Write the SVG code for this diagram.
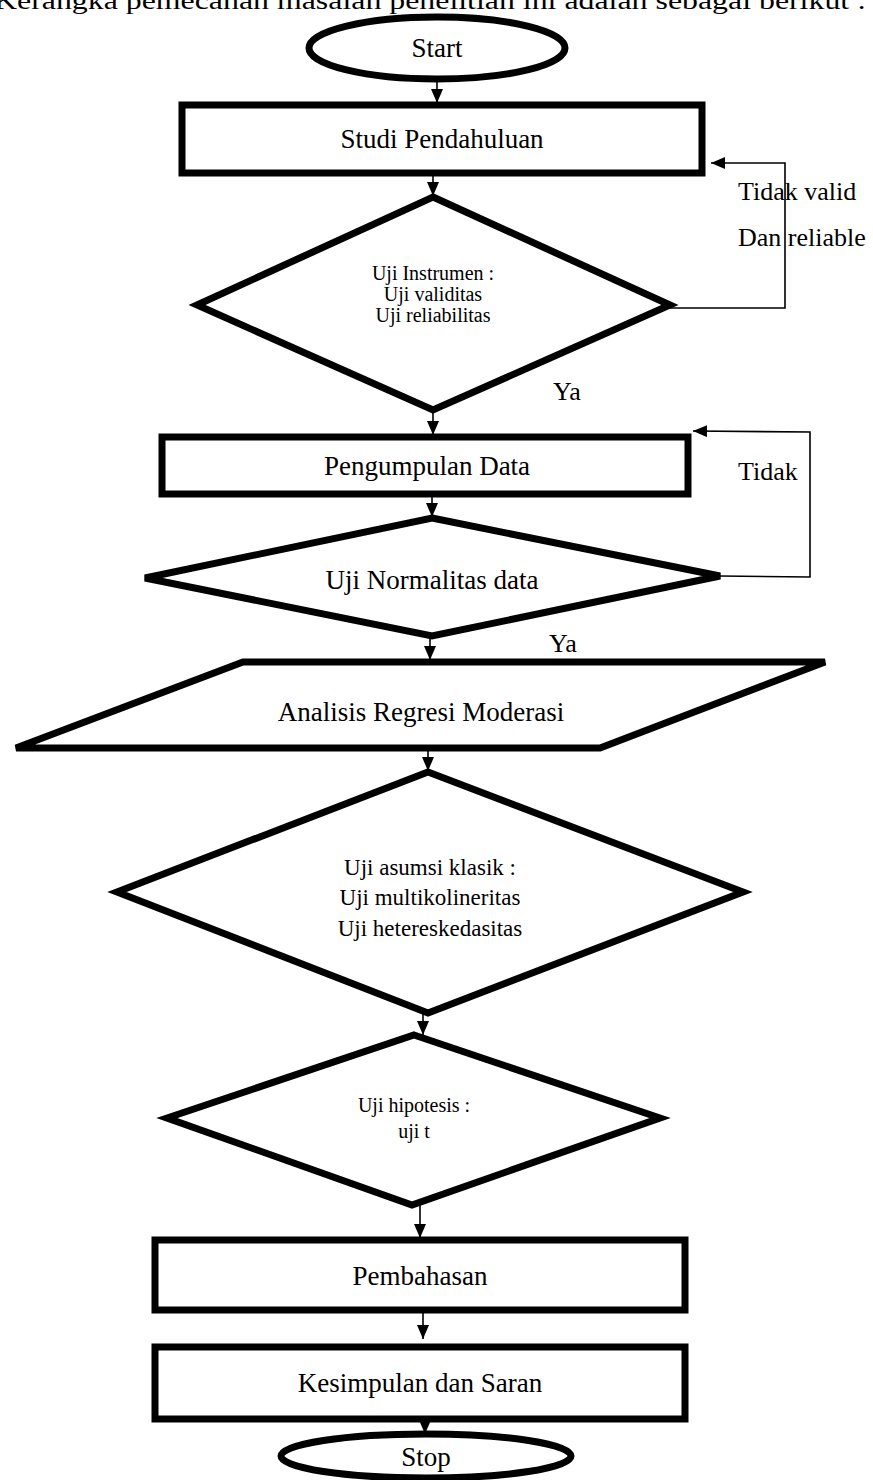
<svg xmlns="http://www.w3.org/2000/svg" width="873" height="1480" viewBox="0 0 873 1480">
<defs>
<style>
.shape{fill:#fff;stroke:#000;stroke-width:7;stroke-linejoin:miter}
.t{font-family:"Liberation Serif","Times New Roman",serif;fill:#000;text-anchor:middle;font-size:27px}
.s{font-size:20px}
.m{font-size:23px}
.lbl{font-family:"Liberation Serif","Times New Roman",serif;fill:#000;font-size:26px}
.c{fill:none;stroke:#000;stroke-width:1.6}
</style>
<marker id="ah" markerUnits="userSpaceOnUse" markerWidth="14" markerHeight="12" refX="14" refY="6" orient="auto">
<path d="M0,0 L14,6 L0,12 Z" fill="#000"/>
</marker>
</defs>
<rect width="873" height="1480" fill="#fff"/>
<text class="lbl" x="-6" y="9" textLength="872" lengthAdjust="spacingAndGlyphs">Kerangka pemecahan masalah penelitian ini adalah sebagai berikut :</text>

<g id="connectors">
<line class="c" x1="437" y1="80" x2="437" y2="103" marker-end="url(#ah)"/>
<line class="c" x1="433" y1="173" x2="433" y2="196" marker-end="url(#ah)"/>
<polyline class="c" points="670,308 785,308 785,163 711,163" marker-end="url(#ah)"/>
<line class="c" x1="433" y1="410" x2="433" y2="435" marker-end="url(#ah)"/>
<polyline class="c" points="720,576 810,577 810,432 693,431" marker-end="url(#ah)"/>
<line class="c" x1="432" y1="494" x2="432" y2="517" marker-end="url(#ah)"/>
<line class="c" x1="430" y1="636" x2="430" y2="660" marker-end="url(#ah)"/>
<line class="c" x1="428" y1="748" x2="428" y2="771" marker-end="url(#ah)"/>
<line class="c" x1="423" y1="1013" x2="423" y2="1035" marker-end="url(#ah)"/>
<line class="c" x1="420" y1="1205" x2="420" y2="1238" marker-end="url(#ah)"/>
<line class="c" x1="423" y1="1310" x2="423" y2="1339" marker-end="url(#ah)"/>
<line class="c" x1="425" y1="1419" x2="425" y2="1434" marker-end="url(#ah)"/>
<text class="lbl" x="738" y="200">Tidak valid</text>
<text class="lbl" x="738" y="246">Dan reliable</text>
<text class="lbl" x="553" y="400">Ya</text>
<text class="lbl" x="738" y="480">Tidak</text>
<text class="lbl" x="549" y="652">Ya</text>
</g>

<g id="start">
<ellipse class="shape" cx="437" cy="48" rx="128" ry="31"/>
<text class="t" x="437" y="57">Start</text>
</g>

<g id="studi">
<rect class="shape" x="182" y="105" width="520" height="68"/>
<text class="t" x="442" y="148">Studi Pendahuluan</text>
</g>

<g id="uji-instrumen">
<polygon class="shape" points="433,197 670,305 433,410 197,305"/>
<text class="t s" x="433" y="280">Uji Instrumen :</text>
<text class="t s" x="433" y="301">Uji validitas</text>
<text class="t s" x="433" y="322">Uji reliabilitas</text>
</g>

<g id="pengumpulan">
<rect class="shape" x="162" y="437" width="526" height="57"/>
<text class="t" x="427" y="475">Pengumpulan Data</text>
</g>

<g id="normalitas">
<polygon class="shape" points="432,518 720,576 432,636 145,578"/>
<text class="t" x="432" y="589">Uji Normalitas data</text>
</g>

<g id="regresi">
<polygon class="shape" points="243,662 825,662 600,748 16,748"/>
<text class="t" x="421" y="721">Analisis Regresi Moderasi</text>
</g>

<g id="asumsi">
<polygon class="shape" points="428,772 743,892 428,1013 117,892"/>
<text class="t m" x="430" y="875">Uji asumsi klasik :</text>
<text class="t m" x="430" y="905">Uji multikolineritas</text>
<text class="t m" x="430" y="936">Uji hetereskedasitas</text>
</g>

<g id="hipotesis">
<polygon class="shape" points="414,1035 660,1118 412,1205 167,1118"/>
<text class="t s" x="414" y="1112">Uji hipotesis :</text>
<text class="t s" x="414" y="1138">uji t</text>
</g>

<g id="pembahasan">
<rect class="shape" x="155" y="1240" width="530" height="70"/>
<text class="t" x="420" y="1285">Pembahasan</text>
</g>

<g id="kesimpulan">
<rect class="shape" x="155" y="1347" width="530" height="72"/>
<text class="t" x="420" y="1392">Kesimpulan dan Saran</text>
</g>

<g id="stop">
<ellipse class="shape" cx="426" cy="1456" rx="145" ry="22"/>
<text class="t" x="426" y="1466">Stop</text>
</g>
</svg>
